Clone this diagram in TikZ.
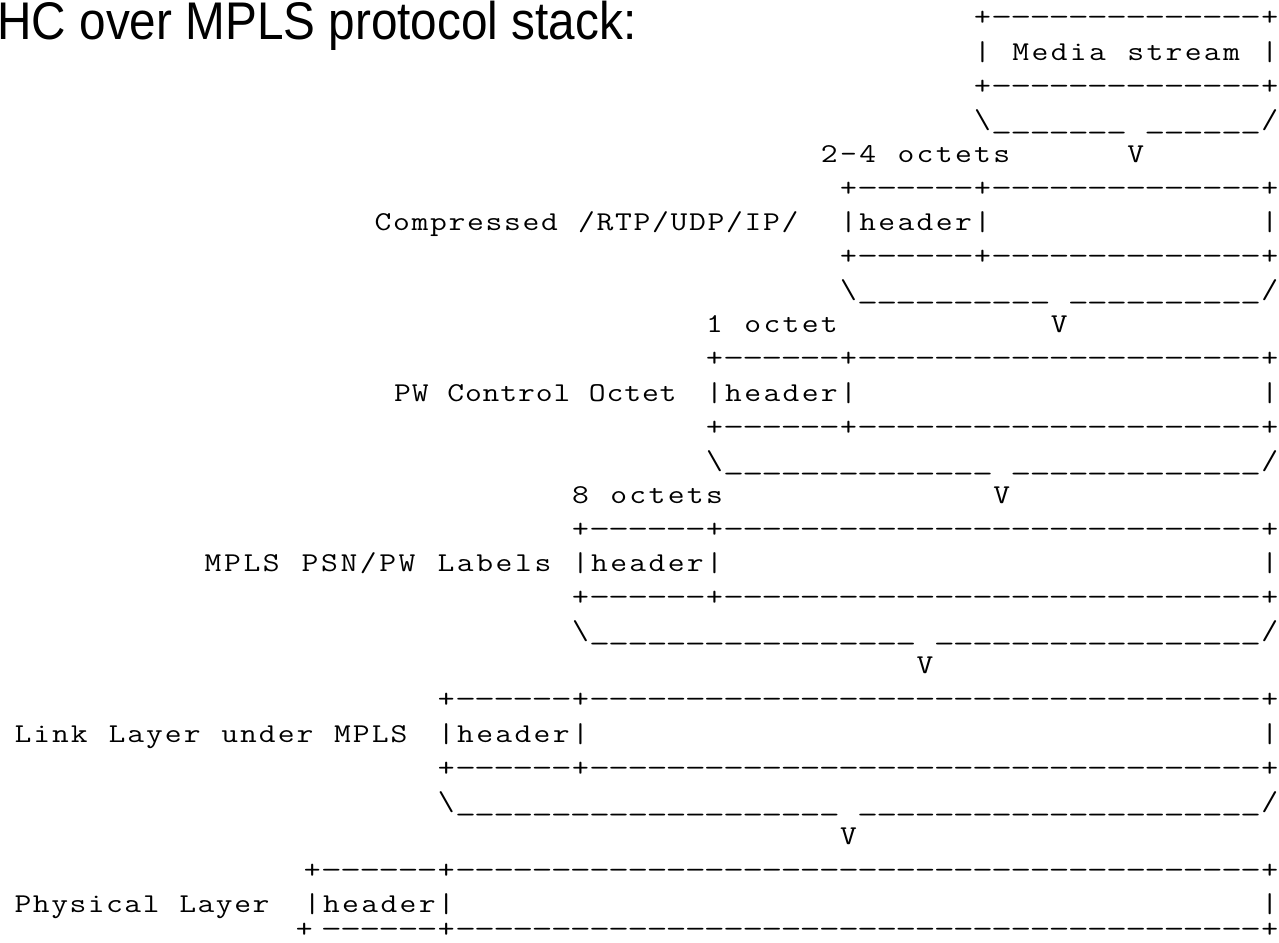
\documentclass[tikz,border=0pt]{standalone}
\usepackage{fontspec}
\usepackage{graphicx}
\setmainfont{Liberation Sans}
\usetikzlibrary{positioning}

% one character per fixed cell, like the plain-text figure
\newlength\cw
\setlength\cw{9.575pt}
\def\chs{1.2}
\def\ascstop{\ascstop}
\def\asc#1{\ascloop#1\ascstop}
\def\ascloop#1{\ifx\ascstop#1\else\hbox to\cw{\hss\scalebox{\chs}[1]{#1}\hss}\expandafter\ascloop\fi}
\newcommand\rep[2]{\foreach\i in {1,...,#1}{\hbox to\cw{\hss#2\hss}}}
\newcommand\us{\scalebox{1.5}[1]{\_}}
\newcommand\dsh{\scalebox{1.5}[1]{-}}
% labels are set a little tighter
\newcommand\lbl[2]{{\setlength\cw{#1}\asc{#2}}}

\begin{document}
\begin{tikzpicture}[x=9.575pt,y=-17.05pt,
    ascii/.style={anchor=base west,inner sep=0pt,outer sep=0pt,
                  font=\ttfamily\fontsize{13.6pt}{17pt}\selectfont},
    title/.style={anchor=base west,inner sep=0pt,outer sep=0pt,
                  font=\fontsize{26.5pt}{30pt}\selectfont}]
  \useasboundingbox (-0.8094,-0.7625) rectangle (65.98,26.89);

  \node[title] (title) at (-0.94,0.41) {\scalebox{0.9}[1]{HC over MPLS protocol stack:}};

  % media stream
  \node[ascii] (mediatop) at (50,0) {\asc{+}\rep{14}{\dsh}\asc{+}};
  \node[ascii] (media)    at (50,1) {\asc{|~Media~stream~|}};
  \node[ascii] (mediabot) at (50,2) {\asc{+}\rep{14}{\dsh}\asc{+}};
  \node[ascii] (mediabr)  at (50,3) {\asc{\textbackslash}\rep{7}{\us}\asc{~}\rep{6}{\us}\asc{/}};
  \node[ascii] (mediav)   at (58,4) {\asc{V}};

  % compressed RTP/UDP/IP
  \node[ascii] (rohcsize) at (42,4) {\asc{2-4~octets}};
  \node[ascii] (rohctop)  at (43,5) {\asc{+}\rep{6}{\dsh}\asc{+}\rep{14}{\dsh}\asc{+}};
  \node[ascii] (rohc)     at (43,6) {\asc{|header|}};
  \node[ascii] (rohcend)  at (65,6) {\asc{|}};
  \node[ascii,base left=19.8pt of rohc] (rohclbl) {\lbl{9.25pt}{Compressed~/RTP/UDP/IP/}};
  \node[ascii] (rohcbot)  at (43,7) {\asc{+}\rep{6}{\dsh}\asc{+}\rep{14}{\dsh}\asc{+}};
  \node[ascii] (rohcbr)   at (43,8) {\asc{\textbackslash}\rep{10}{\us}\asc{~}\rep{10}{\us}\asc{/}};
  \node[ascii] (rohcv)    at (54,9) {\asc{V}};

  % PW control word
  \node[ascii] (pwsize) at (36,9)  {\asc{1~octet}};
  \node[ascii] (pwtop)  at (36,10) {\asc{+}\rep{6}{\dsh}\asc{+}\rep{21}{\dsh}\asc{+}};
  \node[ascii] (pw)     at (36,11) {\asc{|header|}};
  \node[ascii] (pwend)  at (65,11) {\asc{|}};
  \node[ascii,base left=13.95pt of pw] (pwlbl) {\lbl{8.85pt}{PW~Control~Octet}};
  \node[ascii] (pwbot)  at (36,12) {\asc{+}\rep{6}{\dsh}\asc{+}\rep{21}{\dsh}\asc{+}};
  \node[ascii] (pwbr)   at (36,13) {\asc{\textbackslash}\rep{14}{\us}\asc{~}\rep{13}{\us}\asc{/}};
  \node[ascii] (pwv)    at (51,14) {\asc{V}};

  % MPLS labels
  \node[ascii] (mplssize) at (29,14) {\asc{8~octets}};
  \node[ascii] (mplstop)  at (29,15) {\asc{+}\rep{6}{\dsh}\asc{+}\rep{28}{\dsh}\asc{+}};
  \node[ascii] (mpls)     at (29,16) {\asc{|header|}};
  \node[ascii] (mplsend)  at (65,16) {\asc{|}};
  \node[ascii,base left=9.1pt of mpls] (mplslbl) {\lbl{9.7pt}{MPLS~PSN/PW~Labels}};
  \node[ascii] (mplsbot)  at (29,17) {\asc{+}\rep{6}{\dsh}\asc{+}\rep{28}{\dsh}\asc{+}};
  \node[ascii] (mplsbr)   at (29,18) {\asc{\textbackslash}\rep{17}{\us}\asc{~}\rep{17}{\us}\asc{/}};
  \node[ascii] (mplsv)    at (47,19) {\asc{V}};

  % link layer
  \node[ascii] (linktop) at (22,20) {\asc{+}\rep{6}{\dsh}\asc{+}\rep{35}{\dsh}\asc{+}};
  \node[ascii] (link)    at (22,21) {\asc{|header|}};
  \node[ascii] (linkend) at (65,21) {\asc{|}};
  \node[ascii,base left=14.2pt of link] (linklbl) {\lbl{9.4pt}{Link~Layer~under~MPLS}};
  \node[ascii] (linkbot) at (22,22) {\asc{+}\rep{6}{\dsh}\asc{+}\rep{35}{\dsh}\asc{+}};
  \node[ascii] (linkbr)  at (22,23) {\asc{\textbackslash}\rep{20}{\us}\asc{~}\rep{21}{\us}\asc{/}};
  \node[ascii] (linkv)   at (43,24) {\asc{V}};

  % physical layer
  \node[ascii] (phytop) at (15,25) {\asc{+}\rep{6}{\dsh}\asc{+}\rep{42}{\dsh}\asc{+}};
  \node[ascii] (phy)    at (15,26) {\asc{|header|}};
  \node[ascii] (phyend) at (65,26) {\asc{|}};
  \node[ascii,base left=16.3pt of phy] (phylbl) {\lbl{9.15pt}{Physical~Layer}};
  \node[ascii] (phybot) at (15,26.72) {\hbox to\cw{\hss\scalebox{\chs}[1]{+}\hskip8pt\hss}\rep{6}{\dsh}\asc{+}\rep{42}{\dsh}\asc{+}};
\end{tikzpicture}
\end{document}
